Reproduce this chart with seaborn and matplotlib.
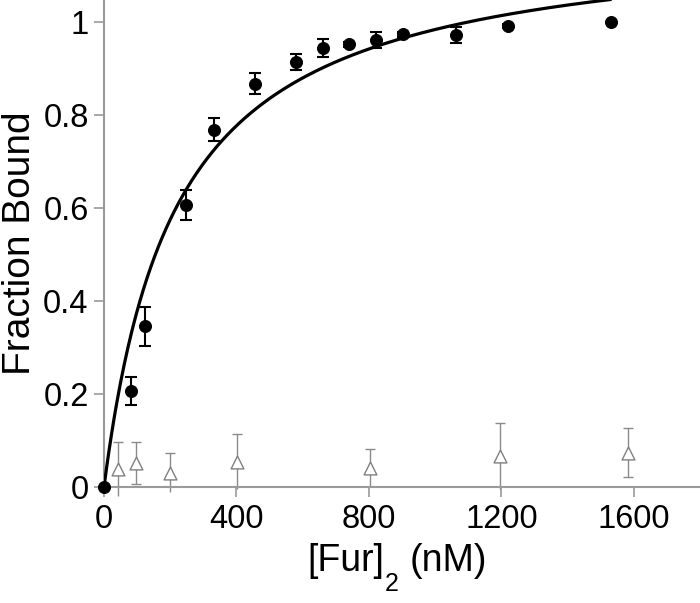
import matplotlib
matplotlib.use('Agg')
import matplotlib.pyplot as plt
import numpy as np
import pandas as pd
import seaborn as sns

# wild-type Fur binding (filled circles)
conc = [0, 81, 124, 249, 333, 457, 580, 660, 741, 822, 902, 1063, 1221, 1532]
bound = [0.0, 0.206, 0.346, 0.606, 0.768, 0.867, 0.914, 0.944, 0.952, 0.961, 0.973, 0.972, 0.991, 0.999]
bound_err = [0, 0.03, 0.042, 0.033, 0.025, 0.022, 0.017, 0.02, 0.005, 0.018, 0.005, 0.018, 0.005, 0]

# control (open triangles)
ctrl_conc = [43, 97, 199, 402, 804, 1197, 1583]
ctrl_bound = [0.038, 0.052, 0.031, 0.054, 0.040, 0.067, 0.074]
ctrl_err = [0.058, 0.045, 0.041, 0.059, 0.041, 0.071, 0.052]

# hyperbolic fit parameters
kd = 216
bmax = 1.196
fit_end = 1530

sns.set_theme(style="ticks")
plt.rcParams['font.family'] = ['Liberation Sans', 'DejaVu Sans']
grey = '#9a9a9a'

fig = plt.figure(figsize=(7, 6.03), dpi=100)
ax = fig.add_axes([0.1486, 0.1924, 0.8514, 0.8076])

df = pd.DataFrame({'conc': conc, 'bound': bound})
ctrl = pd.DataFrame({'conc': ctrl_conc, 'bound': ctrl_bound})

xs = np.linspace(0, fit_end, 400)
fit = pd.DataFrame({'conc': xs, 'bound': bmax * xs / (kd + xs)})

# control error bars and markers
ax.errorbar(ctrl_conc, ctrl_bound, yerr=ctrl_err, fmt='none', ecolor='#8a8a8a',
            elinewidth=1.0, capsize=3.5, capthick=1.0, zorder=2)
sns.scatterplot(data=ctrl, x='conc', y='bound', marker='^', s=85, facecolor='white',
                edgecolor='#808080', linewidth=1.0, ax=ax, zorder=3)

# fit curve
sns.lineplot(data=fit, x='conc', y='bound', color='black', linewidth=2.3, ax=ax, zorder=4)

# wild-type error bars and markers
ax.errorbar(conc, bound, yerr=bound_err, fmt='none', ecolor='black',
            elinewidth=1.5, capsize=4, capthick=1.5, zorder=5)
sns.scatterplot(data=df, x='conc', y='bound', color='black', s=75,
                edgecolor='black', ax=ax, zorder=6)
for c in ax.collections:
    c.set_clip_on(False)

ax.set_xlim(0, 1800)
ax.set_ylim(0, 1.047)
ax.set_xticks([0, 400, 800, 1200, 1600])
ax.set_yticks([0, 0.2, 0.4, 0.6, 0.8, 1.0])
ax.set_yticklabels(['0', '0.2', '0.4', '0.6', '0.8', '1'])
ax.set_xlabel('')

sns.despine(ax=ax)
for s in ['left', 'bottom']:
    ax.spines[s].set_color(grey)
    ax.spines[s].set_linewidth(1.5)
ax.tick_params(axis='both', direction='out', length=7, width=1.2, color=grey,
               labelsize=23.5, labelcolor='black')
ax.tick_params(axis='y', pad=4)
ax.tick_params(axis='x', pad=5)

ax.set_ylabel('Fraction Bound', fontsize=28, color='black')
ax.yaxis.set_label_coords(-0.11, 0.5)

# x label: [Fur] with a lowered subscript 2, then (nM)
t1 = fig.text(307 / 700, 1 - 571 / 603, '[Fur]', fontsize=27, color='black',
              ha='left', va='baseline')
t2 = ax.annotate('2', xy=(1, 0), xycoords=t1, xytext=(0.5, 5), textcoords='offset points',
                 fontsize=18, color='black', ha='left', va='top', annotation_clip=False)
ax.annotate('(nM)', xy=(1, 0), xycoords=(t2, t1), xytext=(8, 0), textcoords='offset points',
            fontsize=27, color='black', ha='left', va='bottom', annotation_clip=False)

fig.savefig('out.png', dpi=100)
